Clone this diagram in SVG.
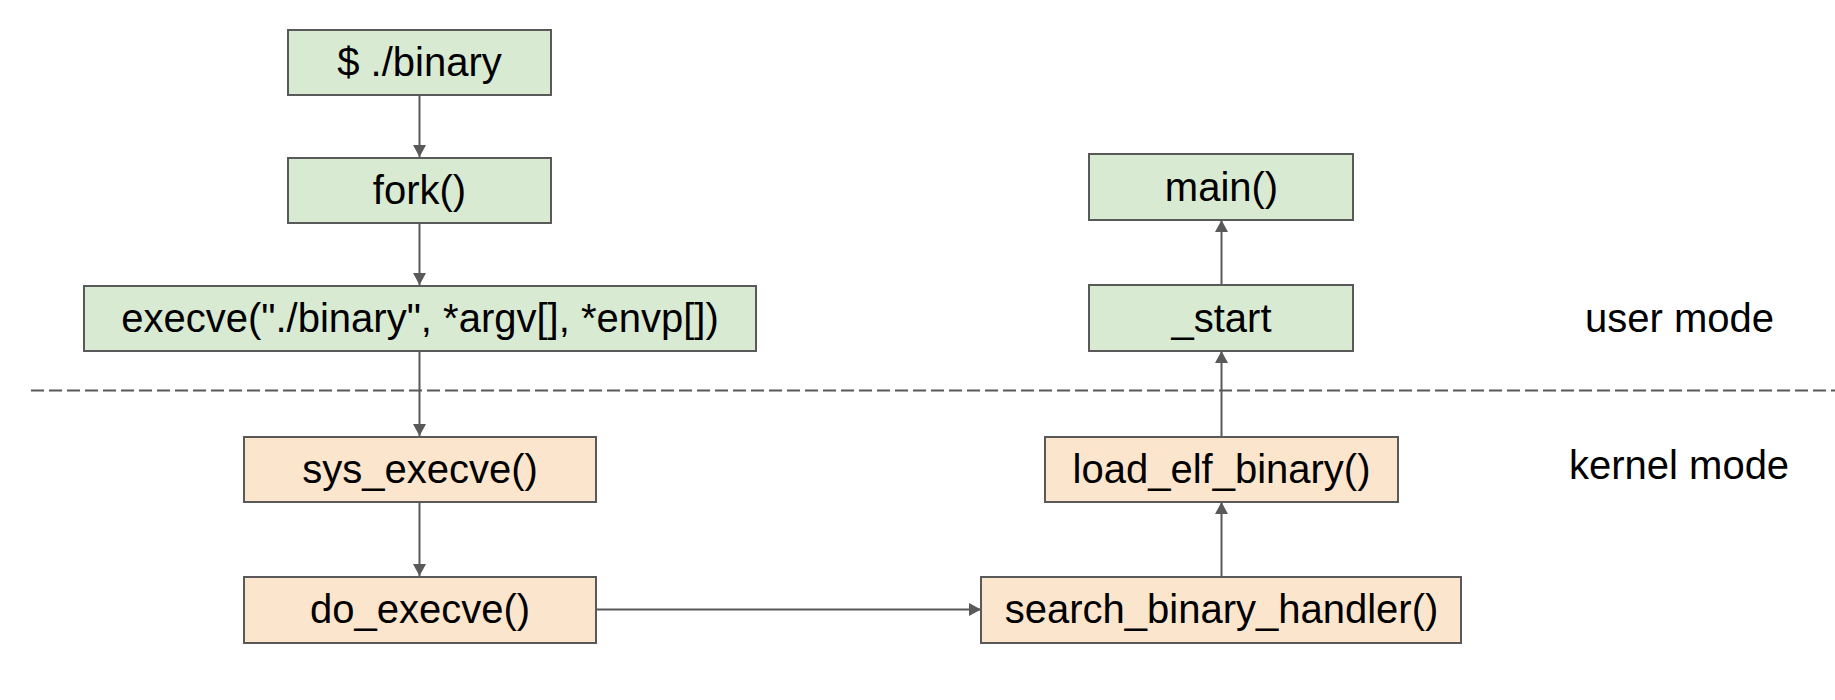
<svg xmlns="http://www.w3.org/2000/svg" width="1835" height="700" viewBox="0 0 1835 700">
  <style>
    .box { stroke: #595959; stroke-width: 2; }
    .user { fill: #d9ead3; }
    .kern { fill: #fce5cd; }
    .lbl { font-family: "Liberation Sans", Arial, sans-serif; font-size: 40px; fill: #000; text-anchor: middle; }
    .side { font-family: "Liberation Sans", Arial, sans-serif; font-size: 40px; fill: #000; }
    .conn { stroke: #595959; stroke-width: 2; fill: none; marker-end: url(#arr); }
    .dash { stroke: #595959; stroke-width: 2; fill: none; stroke-dasharray: 13 5; }
  </style>
  <defs>
    <marker id="arr" markerUnits="userSpaceOnUse" markerWidth="13" markerHeight="13" refX="12" refY="6.5" orient="auto">
      <path d="M0,0 L12,6.5 L0,13 Z" fill="#595959"/>
    </marker>
  </defs>
  <rect width="1835" height="700" fill="#ffffff"/>

  <line class="dash" x1="31" y1="390.5" x2="1835" y2="390.5"/>

  <g id="connectors">
    <line class="conn" x1="419.5" y1="95" x2="419.5" y2="157"/>
    <line class="conn" x1="419.5" y1="223" x2="419.5" y2="285"/>
    <line class="conn" x1="419.5" y1="351" x2="419.5" y2="436"/>
    <line class="conn" x1="419.5" y1="502" x2="419.5" y2="576"/>
    <line class="conn" x1="596" y1="609.5" x2="981" y2="609.5"/>
    <line class="conn" x1="1221.5" y1="576" x2="1221.5" y2="502"/>
    <line class="conn" x1="1221.5" y1="436" x2="1221.5" y2="351"/>
    <line class="conn" x1="1221.5" y1="285" x2="1221.5" y2="220"/>
  </g>

  <g id="binary">
    <rect class="box user" x="288" y="30" width="263" height="65"/>
    <text class="lbl" x="419.5" y="76">$ ./binary</text>
  </g>
  <g id="fork">
    <rect class="box user" x="288" y="158" width="263" height="65"/>
    <text class="lbl" x="419.5" y="204">fork()</text>
  </g>
  <g id="execve">
    <rect class="box user" x="84" y="286" width="672" height="65"/>
    <text class="lbl" x="420" y="332">execve("./binary", *argv[], *envp[])</text>
  </g>
  <g id="sys_execve">
    <rect class="box kern" x="244" y="437" width="352" height="65"/>
    <text class="lbl" x="420" y="483">sys_execve()</text>
  </g>
  <g id="do_execve">
    <rect class="box kern" x="244" y="577" width="352" height="66"/>
    <text class="lbl" x="420" y="623">do_execve()</text>
  </g>
  <g id="search_binary_handler">
    <rect class="box kern" x="981" y="577" width="480" height="66"/>
    <text class="lbl" x="1221.5" y="623">search_binary_handler()</text>
  </g>
  <g id="load_elf_binary">
    <rect class="box kern" x="1045" y="437" width="353" height="65"/>
    <text class="lbl" x="1221.5" y="483">load_elf_binary()</text>
  </g>
  <g id="start">
    <rect class="box user" x="1089" y="285" width="264" height="66"/>
    <text class="lbl" x="1221.5" y="332">_start</text>
  </g>
  <g id="main">
    <rect class="box user" x="1089" y="154" width="264" height="66"/>
    <text class="lbl" x="1221.5" y="201">main()</text>
  </g>

  <g id="mode-labels">
    <text class="side" x="1585" y="332">user mode</text>
    <text class="side" x="1569" y="479">kernel mode</text>
  </g>
</svg>
